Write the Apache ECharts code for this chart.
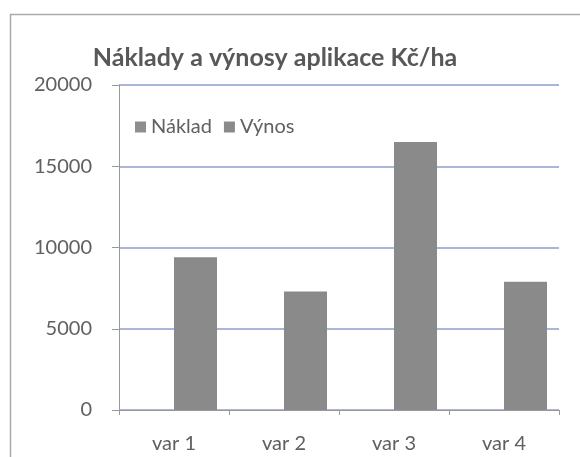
<!DOCTYPE html>
<html>
<head>
<meta charset="utf-8">
<script src="https://cdn.jsdelivr.net/npm/echarts@6/dist/echarts.min.js"></script>
<style>
  html, body { margin: 0; padding: 0; background: #fff; }
  #main { width: 580px; height: 457px; }
</style>
</head>
<body>
<div id="main"></div>
<script>
// data
var categories = ['var 1', 'var 2', 'var 3', 'var 4'];
var naklad = [0, 0, 0, 0];
var vynos = [9400, 7300, 16500, 7900];

var chart = echarts.init(document.getElementById('main'));

var font = 'Lato, "Open Sans", sans-serif';

chart.setOption({
  animation: false,
  backgroundColor: '#fff',
  title: {
    text: 'Náklady a výnosy aplikace Kč/ha',
    left: 270,
    textAlign: 'center',
    top: 40,
    textStyle: { fontFamily: font, fontSize: 25, fontWeight: 'bold', color: '#585858' }
  },
  legend: {
    left: 130,
    top: 112,
    itemWidth: 11,
    itemHeight: 11,
    itemGap: 12,
    icon: 'rect',
    textStyle: { fontFamily: font, fontSize: 20, color: '#606060' },
    data: ['Náklad', 'Výnos']
  },
  graphic: [{
    type: 'rect',
    shape: { x: 10.5, y: 14.5, width: 620, height: 500 },
    style: { fill: 'none', stroke: '#aaa', lineWidth: 1.5 },
    silent: true
  }],
  grid: { left: 119, right: 21, top: 85, bottom: 47 },
  xAxis: {
    type: 'category',
    data: categories,
    axisLine: { lineStyle: { color: '#999' } },
    axisTick: { show: true, length: 5, lineStyle: { color: '#999' } },
    axisLabel: { fontFamily: font, fontSize: 20, color: '#606060', margin: 24 }
  },
  yAxis: {
    type: 'value',
    min: 0,
    max: 20000,
    interval: 5000,
    axisLine: { show: true, lineStyle: { color: '#999' } },
    axisTick: { show: true, inside: false, length: 7, lineStyle: { color: '#999' } },
    splitLine: { lineStyle: { color: '#8d9ccc', width: 1.5 } },
    axisLabel: {
      fontFamily: font, fontSize: 20, color: '#606060', margin: 27,
      formatter: function (v) { return String(v); }
    }
  },
  series: [
    {
      name: 'Náklad',
      type: 'bar',
      data: naklad,
      barWidth: 43,
      barGap: '0%',
      itemStyle: { color: '#8e8e8e' }
    },
    {
      name: 'Výnos',
      type: 'bar',
      data: vynos,
      barWidth: 43,
      itemStyle: { color: '#8a8a8a' }
    }
  ]
});
</script>
</body>
</html>
